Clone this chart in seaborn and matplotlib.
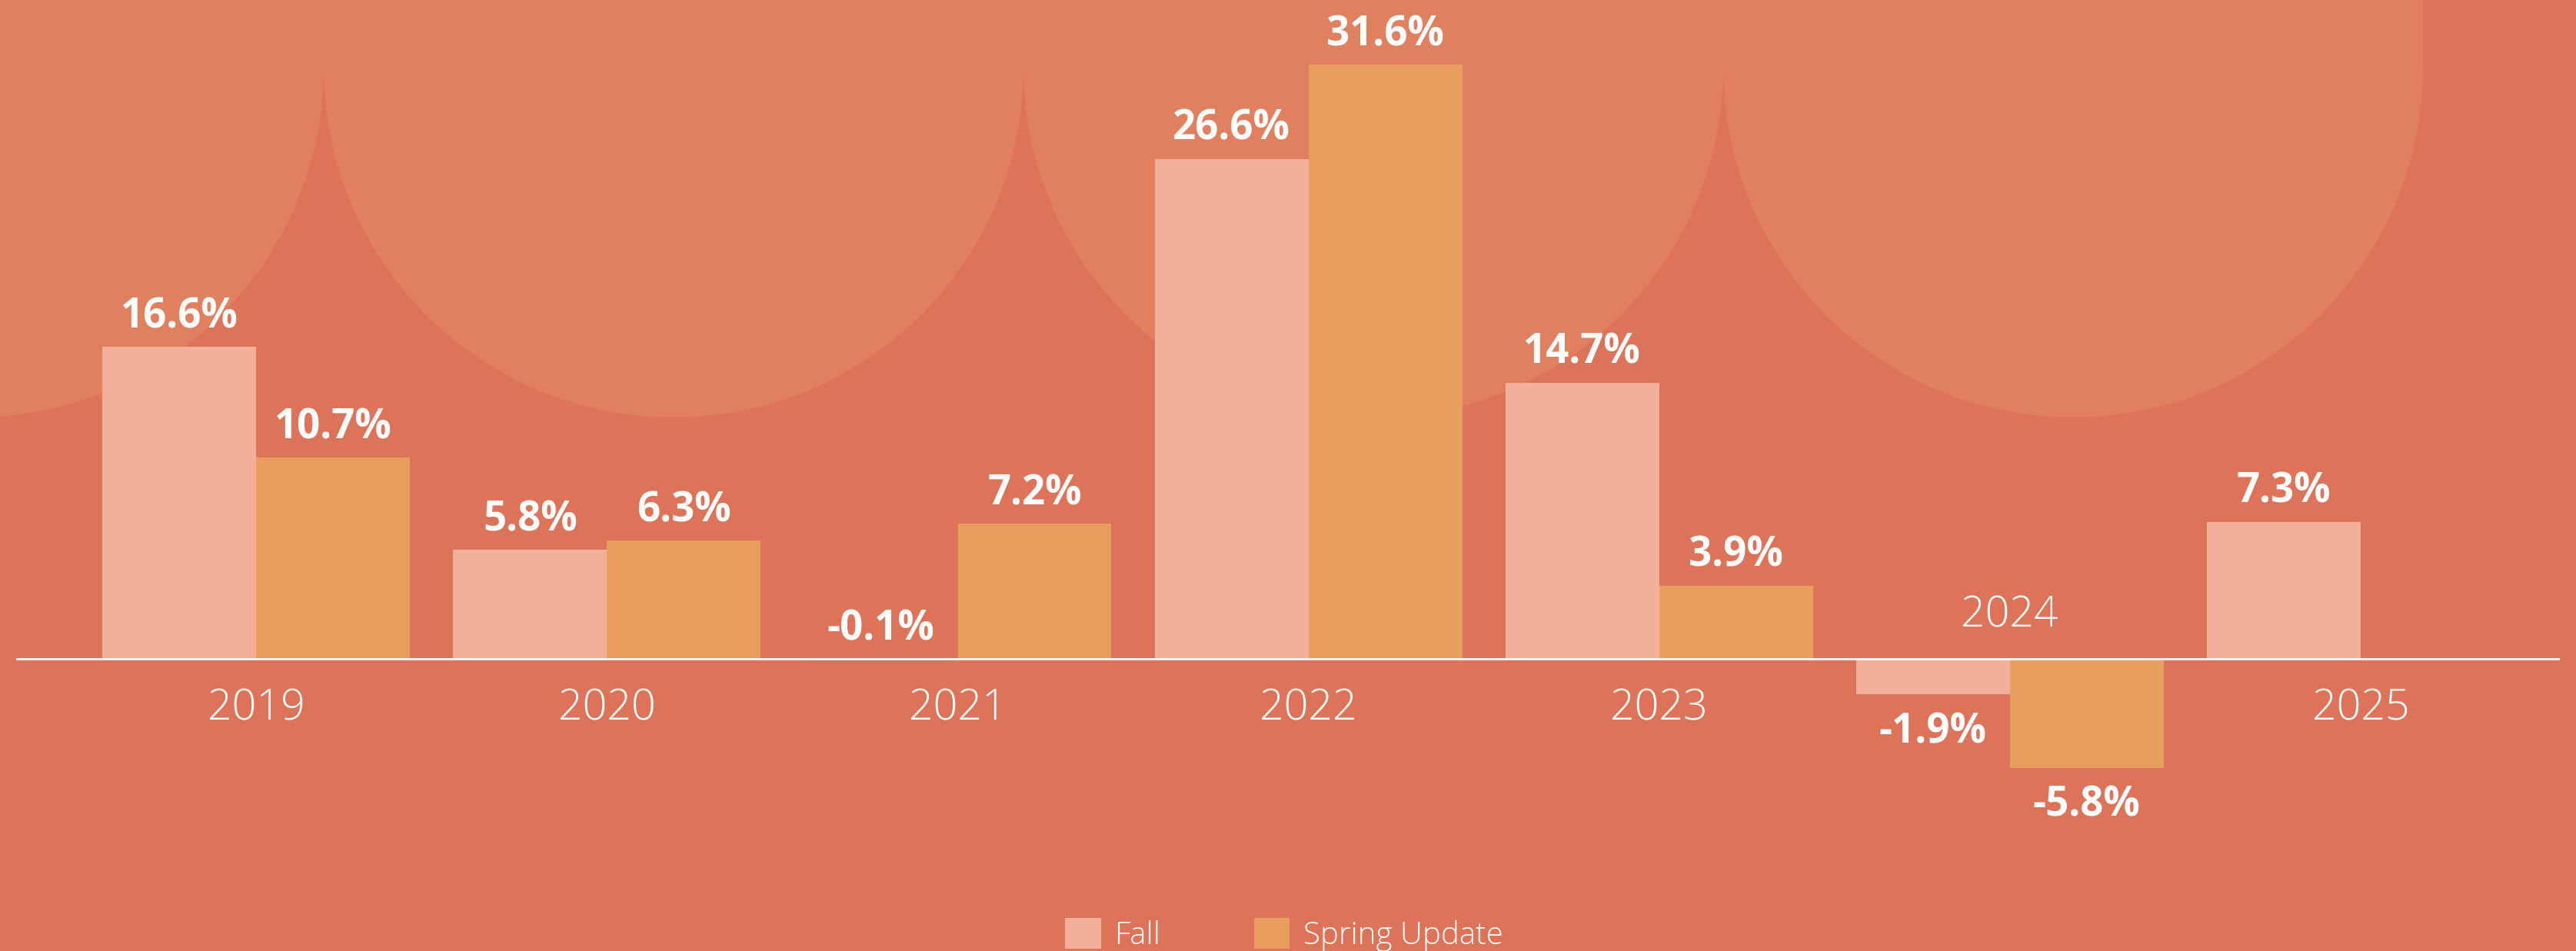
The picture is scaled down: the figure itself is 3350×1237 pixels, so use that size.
import numpy as np
import pandas as pd
import matplotlib
matplotlib.use("Agg")
import matplotlib.pyplot as plt
import seaborn as sns
from matplotlib.patches import Circle, Rectangle, Patch

# ---------------- data ----------------
years = ["2019", "2020", "2021", "2022", "2023", "2024", "2025"]
fall = [16.6, 5.8, -0.1, 26.6, 14.7, -1.9, 7.3]
spring = [10.7, 6.3, 7.2, 31.6, 3.9, -5.8, None]
series_names = ["Fall", "Spring Update"]

BG = "#DD7459"
DECOR = "#E1805F"
FALL_C = "#F2B09B"
SPRING_C = "#E89E5F"
WHITE = "#FFFFFF"

rows = []
for y, f, s in zip(years, fall, spring):
    if f is not None:
        rows.append((y, series_names[0], f))
    if s is not None:
        rows.append((y, series_names[1], s))
df = pd.DataFrame(rows, columns=["year", "series", "value"])

sns.set_theme(style="white")
plt.rcParams["font.family"] = ["Open Sans", "DejaVu Sans"]

W, H = 3350, 1237
fig = plt.figure(figsize=(W / 100, H / 100), dpi=100, facecolor=BG)

# ---------------- decorative background shapes ----------------
bg = fig.add_axes([0, 0, 1, 1], zorder=0)
bg.set_xlim(0, W)
bg.set_ylim(H, 0)
bg.axis("off")
r = 455
cy = 88
for cx in [-34, 876, 1786, 2696]:
    bg.add_patch(Circle((cx, cy), r, facecolor=DECOR, edgecolor="none"))
    bg.add_patch(Rectangle((cx - r, -20), 2 * r, cy + 20, facecolor=DECOR, edgecolor="none"))

# ---------------- main axes ----------------
px_per_unit = 24.45
zero_px = 857
left_px, right_px = 21, 3329
ax = fig.add_axes([left_px / W, 0, (right_px - left_px) / W, 1], zorder=1)
ax.patch.set_alpha(0)

sns.barplot(data=df, x="year", y="value", hue="series", order=years,
            hue_order=series_names, palette=[FALL_C, SPRING_C],
            width=0.877, saturation=1, errorbar=None, ax=ax, legend=False,
            linewidth=0)

center0 = 333.3
step = 456.1
ax.set_xlim((left_px - center0) / step, (right_px - center0) / step)
ax.set_ylim(-(H - zero_px) / px_per_unit, zero_px / px_per_unit)
ax.axhline(0, color=WHITE, lw=1.9, zorder=3)

for s in ax.spines.values():
    s.set_visible(False)
ax.set_xticks([])
ax.set_yticks([])
ax.set_xlabel("")
ax.set_ylabel("")

# value labels
bar_w = 0.877 / 2
for i, y in enumerate(years):
    for j, vals in enumerate([fall, spring]):
        v = vals[i]
        if v is None:
            continue
        x = i + (j - 0.5) * bar_w
        above = v >= -0.5
        anchor = max(v, 0) if above else v
        ax.annotate(f"{v:.1f}%", (x, anchor), xytext=(0, 28 if above else -35),
                    textcoords="offset points", ha="center", va="center",
                    color=WHITE, fontsize=38, fontweight="bold", zorder=4)

# year labels (placed above the axis when all values of that year are negative)
for i, y in enumerate(years):
    vals = [v for v in (fall[i], spring[i]) if v is not None]
    all_neg = all(v < 0 for v in vals)
    ax.annotate(y, (i, 0), xytext=(0, 40 if all_neg else -47),
                textcoords="offset points", ha="center", va="center",
                color=WHITE, fontsize=40, fontweight="light", zorder=4)

# legend
handles = [Patch(facecolor=FALL_C, edgecolor="none", label=series_names[0]),
           Patch(facecolor=SPRING_C, edgecolor="none", label=series_names[1])]
leg = fig.legend(handles=handles, loc="center", bbox_to_anchor=(0.4985, 1 - 1216 / H),
                 ncol=2, frameon=False, fontsize=29, handlelength=1.15,
                 handleheight=1.15, handletextpad=0.45, columnspacing=3.0,
                 borderpad=0)
for t in leg.get_texts():
    t.set_color(WHITE)
    t.set_fontweight("light")

fig.savefig("out.png", dpi=100, facecolor=BG)
